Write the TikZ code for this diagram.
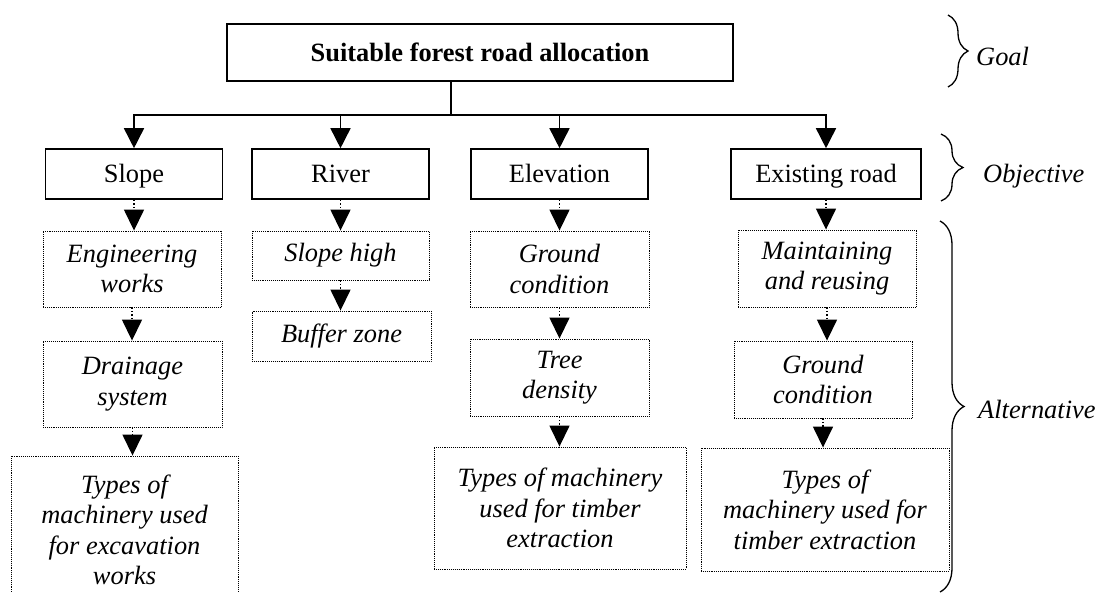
\documentclass[tikz,border=0pt]{standalone}
\usepackage{fontspec}
\setmainfont{Liberation Serif}
\usetikzlibrary{arrows.meta,decorations.pathreplacing}

\tikzset{
  objbox/.style={draw,line width=1.6pt,minimum height=50pt,inner sep=0pt,text height=20pt,text depth=2.6pt},
  altbox/.style={draw,densely dotted,line width=0.9pt,inner sep=0pt,align=center,font=\itshape},
  solidarrow/.style={line width=1.6pt,-{Triangle[length=20pt,width=20pt]}},
  dotarrow/.style={dotted,line width=1.5pt,-{Triangle[length=21pt,width=20pt]}},
  levelbrace/.style={decorate,decoration={brace,amplitude=#1},line width=1.3pt},
  lvl/.style={font=\itshape,inner sep=0pt,anchor=base west}
}

\begin{document}
\begin{tikzpicture}[x=1pt,y=-1pt]
\fontsize{26.4}{30.5}\selectfont
\useasboundingbox (0,0) rectangle (1107,592);
\clip (0,0) rectangle (1107,592);

\node[objbox,minimum width=506pt,minimum height=57pt,font=\bfseries] (goal) at (480,52.5) {Suitable forest road allocation};

\node[objbox,minimum width=177pt] (slope) at (134,174) {Slope};
\node[objbox,minimum width=177pt] (river) at (340.5,174) {River};
\node[objbox,minimum width=177pt] (elev) at (559.5,174) {Elevation};
\node[objbox,minimum width=190pt] (exist) at (826,174) {Existing road};

\node[altbox,minimum width=178pt,minimum height=76pt] (engwork) at (132,269) {Engineering\\works};
\node[altbox,minimum width=179pt,minimum height=86pt] (drain) at (132.5,384) {Drainage\\system};
\node[altbox,minimum width=227pt,minimum height=148pt] (excav) at (124.5,530) {Types of\\machinery used\\for excavation\\works};
\node[altbox,minimum width=177pt,minimum height=49pt] (slopehigh) at (340.5,255.5) {Slope high};
\node[altbox,minimum width=179pt,minimum height=50pt] (buffer) at (341.5,336) {Buffer zone};
\node[altbox,minimum width=179pt,minimum height=76pt] (ground) at (559.5,269) {Ground\\condition};
\node[altbox,minimum width=179pt,minimum height=77pt] (tree) at (559.5,377.5) {Tree\\density};
\node[altbox,minimum width=252pt,minimum height=122pt] (timberB) at (560,508) {Types of machinery\\used for timber\\extraction};
\node[altbox,minimum width=178pt,minimum height=77pt] (maint) at (827,268.5) {Maintaining\\and reusing};
\node[altbox,minimum width=178pt,minimum height=77pt] (groundB) at (823,379.5) {Ground\\condition};
\node[altbox,minimum width=248pt,minimum height=123pt] (timberC) at (825,509.5) {Types of\\machinery used for\\timber extraction};

\coordinate (split) at (451,115);
\draw[line width=1.6pt] (goal.south -| split) -- (split);
\foreach \obj in {slope,river,elev,exist}
  \draw[solidarrow] (split) -| (\obj.north);

\foreach \a/\b in {slope/engwork,engwork/drain,drain/excav,river/slopehigh,slopehigh/buffer,elev/ground,ground/tree,tree/timberB,exist/maint,maint/groundB,groundB/timberC}
  \draw[dotarrow] (\a.south) -- (\a.south |- \b.north);

\draw[levelbrace=20pt] (948,15) -- (948,87);
\draw[levelbrace=22pt] (941,134) -- (941,201);
\draw[levelbrace=24pt] (940,221) -- (940,592);

\node[lvl] (goallbl) at (976,65) {Goal};
\node[lvl] (objlbl) at (983,182) {Objective};
\node[lvl] (altlbl) at (978,418) {Alternative};
\end{tikzpicture}
\end{document}
